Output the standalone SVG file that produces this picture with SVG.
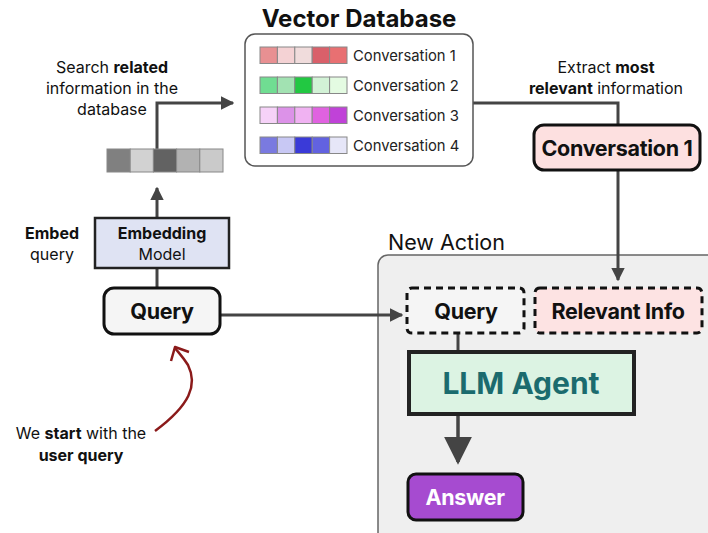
<svg xmlns="http://www.w3.org/2000/svg" width="708" height="533" viewBox="0 0 708 533">
<defs>
<style>
text{font-family:Inter,"Liberation Sans",sans-serif;fill:#111}
.b{font-weight:700}
.lbl{font-size:16px;text-anchor:middle}
.conv{font-size:14.8px;fill:#222}
.cell{stroke:#888;stroke-width:1}
.conn{stroke:#444;stroke-width:3;fill:none}
.node{font-size:21.5px;font-weight:700;text-anchor:middle;letter-spacing:-0.3px}
</style>
<marker id="ah" viewBox="0 0 10 10" refX="9" refY="5" markerWidth="4.5" markerHeight="4.5" orient="auto" markerUnits="strokeWidth">
<path d="M0,0 L10,5 L0,10 z" fill="#444"/>
</marker>
<marker id="ahb" viewBox="0 0 10 10" refX="9" refY="5" markerWidth="8" markerHeight="8" orient="auto" markerUnits="strokeWidth">
<path d="M0,0 L10,5 L0,10 z" fill="#444"/>
</marker>
</defs>
<rect width="708" height="533" fill="#fff"/>

<g id="new-action">
<rect x="378" y="255" width="345" height="290" rx="10" fill="#efefef" stroke="#666" stroke-width="1.5"/>
<text x="388" y="250" font-size="21.5">New Action</text>
</g>

<g id="connectors">
<polyline class="conn" points="157,149 157,103 233,103" marker-end="url(#ah)"/>
<line class="conn" x1="157" y1="218" x2="157" y2="188" marker-end="url(#ah)"/>
<line class="conn" x1="157" y1="287" x2="157" y2="268"/>
<line class="conn" x1="220" y1="315" x2="402" y2="315" marker-end="url(#ah)"/>
<polyline class="conn" points="473,103 618,103 618,125"/>
<line class="conn" x1="618" y1="170" x2="618" y2="280" marker-end="url(#ah)"/>
<line class="conn" x1="458" y1="333" x2="458" y2="352"/>
<line x1="458" y1="415" x2="458" y2="462" stroke="#444" stroke-width="3.5" marker-end="url(#ahb)"/>
<path d="M155,431 C190,405 198,385 188,365 C183,357 178,352 175,348" fill="none" stroke="#8b1a1a" stroke-width="2.5"/>
<polyline points="171,361 175,347 189,352" fill="none" stroke="#8b1a1a" stroke-width="2.5" stroke-linejoin="round"/>
</g>

<g id="vector-database">
<text x="359" y="27" font-size="24" class="b" text-anchor="middle">Vector Database</text>
<rect x="245" y="34" width="228" height="132" rx="10" fill="#fff" stroke="#555" stroke-width="1.5"/>
<g>
<rect class="cell" x="260" y="47" width="17.4" height="16.5" fill="#e89092"/>
<rect class="cell" x="277.4" y="47" width="17.4" height="16.5" fill="#f4d2d4"/>
<rect class="cell" x="294.8" y="47" width="17.4" height="16.5" fill="#f0dcdc"/>
<rect class="cell" x="312.2" y="47" width="17.4" height="16.5" fill="#d9606a"/>
<rect class="cell" x="329.6" y="47" width="17.4" height="16.5" fill="#e87072"/>
<text class="conv" x="353" y="61">Conversation 1</text>
</g>
<g>
<rect class="cell" x="260" y="77" width="17.4" height="16.5" fill="#70dd92"/>
<rect class="cell" x="277.4" y="77" width="17.4" height="16.5" fill="#a2e2b2"/>
<rect class="cell" x="294.8" y="77" width="17.4" height="16.5" fill="#22c842"/>
<rect class="cell" x="312.2" y="77" width="17.4" height="16.5" fill="#d2f2d6"/>
<rect class="cell" x="329.6" y="77" width="17.4" height="16.5" fill="#e4fbe2"/>
<text class="conv" x="353" y="91">Conversation 2</text>
</g>
<g>
<rect class="cell" x="260" y="107" width="17.4" height="16.5" fill="#f6d2f8"/>
<rect class="cell" x="277.4" y="107" width="17.4" height="16.5" fill="#dc92e8"/>
<rect class="cell" x="294.8" y="107" width="17.4" height="16.5" fill="#f0b2f2"/>
<rect class="cell" x="312.2" y="107" width="17.4" height="16.5" fill="#e062e0"/>
<rect class="cell" x="329.6" y="107" width="17.4" height="16.5" fill="#c042d8"/>
<text class="conv" x="353" y="121">Conversation 3</text>
</g>
<g>
<rect class="cell" x="260" y="137" width="17.4" height="16.5" fill="#7a7ae0"/>
<rect class="cell" x="277.4" y="137" width="17.4" height="16.5" fill="#c8c8f4"/>
<rect class="cell" x="294.8" y="137" width="17.4" height="16.5" fill="#3a3ad8"/>
<rect class="cell" x="312.2" y="137" width="17.4" height="16.5" fill="#6262e0"/>
<rect class="cell" x="329.6" y="137" width="17.4" height="16.5" fill="#e6e6f8"/>
<text class="conv" x="353" y="151">Conversation 4</text>
</g>
</g>

<g id="query-vector">
<rect class="cell" x="107" y="149" width="23.2" height="23" fill="#808080"/>
<rect class="cell" x="130.2" y="149" width="23.2" height="23" fill="#d2d2d2"/>
<rect class="cell" x="153.4" y="149" width="23.2" height="23" fill="#626262"/>
<rect class="cell" x="176.6" y="149" width="23.2" height="23" fill="#b2b2b2"/>
<rect class="cell" x="199.8" y="149" width="23.2" height="23" fill="#cacaca"/>
</g>

<g id="search-label">
<text class="lbl" x="112" y="73">Search <tspan class="b">related</tspan></text>
<text class="lbl" x="112" y="94">information in the</text>
<text class="lbl" x="112" y="115">database</text>
</g>

<g id="extract-label">
<text class="lbl" x="606" y="73">Extract <tspan class="b">most</tspan></text>
<text class="lbl" x="606" y="94"><tspan class="b">relevant</tspan> information</text>
</g>

<g id="embedding-model">
<rect x="95" y="218" width="134" height="50" fill="#dfe3f3" stroke="#222" stroke-width="2.5"/>
<text x="162" y="239" font-size="16" class="b" text-anchor="middle">Embedding</text>
<text x="162" y="260" font-size="16" text-anchor="middle">Model</text>
</g>

<g id="embed-label">
<text class="lbl b" x="52" y="239">Embed</text>
<text class="lbl" x="52" y="260">query</text>
</g>

<g id="query">
<rect x="104" y="288" width="116" height="46" rx="10" fill="#f5f5f5" stroke="#111" stroke-width="3"/>
<text class="node" x="162" y="319">Query</text>
</g>

<g id="conversation-1">
<rect x="534" y="125" width="166" height="45" rx="10" fill="#fde0e0" stroke="#111" stroke-width="3"/>
<text class="node" x="617" y="156">Conversation 1</text>
</g>

<g id="query-input">
<rect x="407" y="288" width="117" height="45" rx="5" fill="#f5f5f5" stroke="#111" stroke-width="3" stroke-dasharray="7 5"/>
<text class="node" x="466" y="319">Query</text>
</g>

<g id="relevant-info">
<rect x="535" y="288" width="167" height="45" rx="5" fill="#fde3e3" stroke="#111" stroke-width="3" stroke-dasharray="7 5"/>
<text class="node" x="618" y="319">Relevant Info</text>
</g>

<g id="llm-agent">
<rect x="409" y="352" width="225" height="62" fill="#dcf3e3" stroke="#222" stroke-width="4"/>
<text x="521" y="394" font-size="30" class="b" text-anchor="middle" style="fill:#1b6b6e">LLM Agent</text>
</g>

<g id="answer">
<rect x="408" y="474" width="115" height="46" rx="8" fill="#a64bd0" stroke="#111" stroke-width="3"/>
<text class="node" x="465" y="505" style="fill:#fff">Answer</text>
</g>

<g id="start-label">
<text class="lbl" x="81" y="439">We <tspan class="b">start</tspan> with the</text>
<text class="lbl b" x="81" y="461">user query</text>
</g>
</svg>
